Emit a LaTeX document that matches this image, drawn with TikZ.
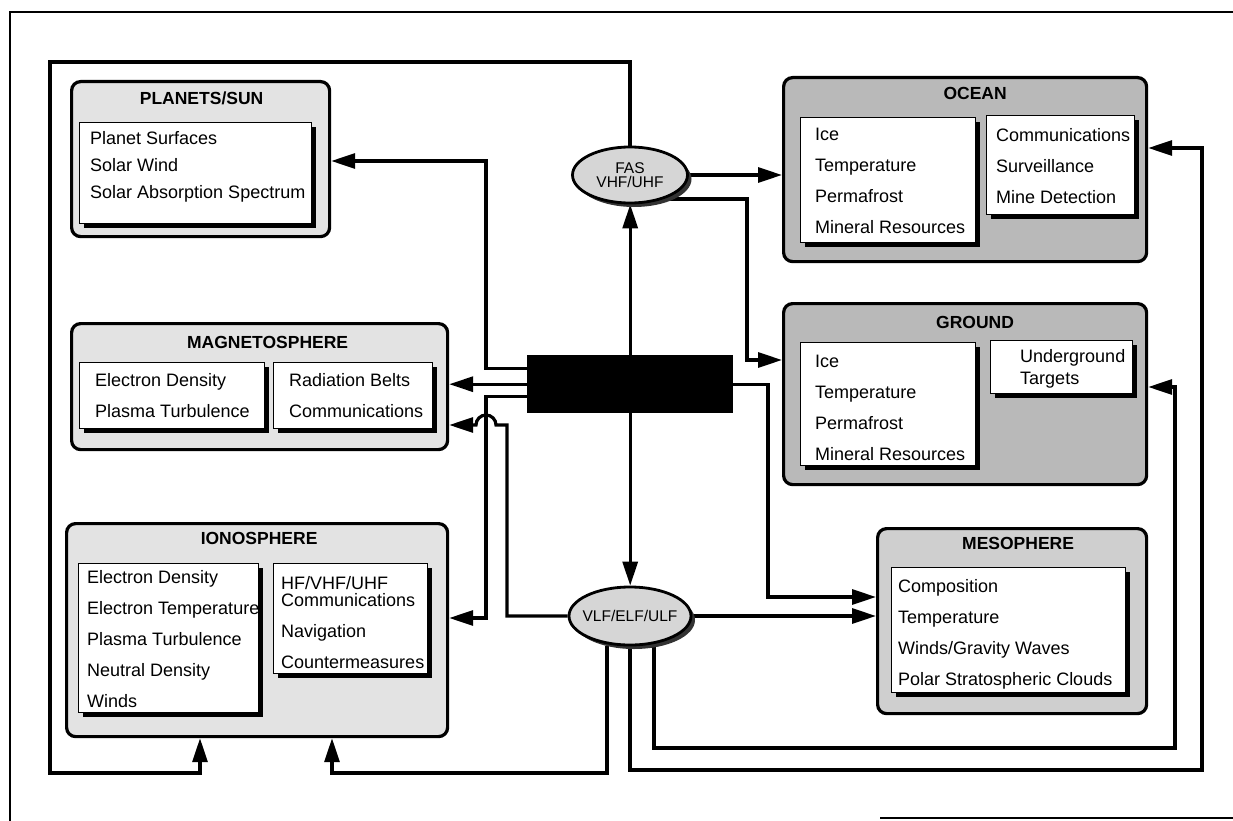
\documentclass[tikz,border=0pt]{standalone}
\usepackage{fontspec}
\setmainfont{Liberation Sans}
\usetikzlibrary{shapes.geometric,positioning,backgrounds,shadows,arrows.meta}

\tikzset{
  sphere/.style={draw, line width=3.2pt, rounded corners=9pt, anchor=north west, inner sep=0pt},
  pale/.style={fill=gray!22},
  deep/.style={fill=gray!55},
  panel/.style={draw, line width=0.9pt, fill=white, anchor=north west, inner sep=0pt,
    drop shadow={shadow xshift=5pt, shadow yshift=-5pt, fill=black, opacity=1}},
  heading/.style={font=\bfseries\fontsize{17.5}{17.5}\selectfont, inner sep=0pt},
  entries/.style={anchor=north west, align=left, inner sep=0pt, font=\fontsize{18}{31}\selectfont},
  band/.style={ellipse, draw, line width=2.8pt, fill=gray!32, inner sep=-8pt, align=center,
    font=\fontsize{15.5}{14}\selectfont,
    drop shadow={shadow xshift=4pt, shadow yshift=-4pt, fill=black!80, opacity=1}},
  flow/.style={line width=3.2pt, -{Triangle[length=24pt,width=15pt]}},
}

\begin{document}
\begin{tikzpicture}[x=1pt,y=-1pt]
\useasboundingbox (0,0) rectangle (1233,821);
% page frame
\draw[line width=1.6pt] (1233,12) -- (10,12) -- (10,821);
\draw[line width=1.6pt] (880,818) -- (1233,818);

% left column
\node[sphere, pale, minimum width=258pt, minimum height=155pt] (pla) at (70,80) {};
\node[heading] (plah) at ([shift={(1pt,-18pt)}]pla.north) {PLANETS/SUN};
\node[panel, minimum width=232pt, minimum height=101pt] (plap) at ([shift={(9pt,-42pt)}]pla.north west) {};
\node[entries, font=\fontsize{18}{27}\selectfont] (plal) at ([shift={(11pt,-9pt)}]plap.north west)
  {Planet Surfaces\\Solar Wind\\Solar Absorption Spectrum};

\node[sphere, pale, minimum width=376pt, minimum height=126pt] (mag) at (70,322) {};
\node[heading] (magh) at ([shift={(8pt,-20pt)}]mag.north) {MAGNETOSPHERE};
\node[panel, minimum width=185pt, minimum height=66pt] (magl) at ([shift={(9pt,-40pt)}]mag.north west) {};
\node[panel, minimum width=159pt, minimum height=66pt] (magr) at ([shift={(203pt,-40pt)}]mag.north west) {};
\node[entries] (magla) at ([shift={(16pt,-11pt)}]magl.north west) {Electron Density\\Plasma Turbulence};
\node[entries] (magra) at ([shift={(16pt,-11pt)}]magr.north west) {Radiation Belts\\Communications};

\node[sphere, pale, minimum width=381pt, minimum height=213pt] (ion) at (65,522) {};
\node[heading] (ionh) at ([shift={(2pt,-16pt)}]ion.north) {IONOSPHERE};
\node[panel, minimum width=180pt, minimum height=149pt] (ionl) at ([shift={(13pt,-41pt)}]ion.north west) {};
\node[panel, minimum width=154pt, minimum height=110pt] (ionr) at ([shift={(208pt,-41pt)}]ion.north west) {};
\node[entries] (ionla) at ([shift={(9pt,-7pt)}]ionl.north west)
  {Electron Density\\Electron Temperature\\Plasma Turbulence\\Neutral Density\\Winds};
\node[entries] (ionra) at ([shift={(8pt,-13pt)}]ionr.north west)
  {HF/VHF/UHF\\[-14pt]Communications\\Navigation\\Countermeasures};

% right column
\node[sphere, deep, minimum width=363pt, minimum height=184pt] (ocean) at (782,76) {};
\node[heading] (oceanh) at ([shift={(10pt,-17pt)}]ocean.north) {OCEAN};
\node[panel, minimum width=175pt, minimum height=125pt] (ocnl) at ([shift={(18pt,-41pt)}]ocean.north west) {};
\node[panel, minimum width=148pt, minimum height=99pt] (ocnr) at ([shift={(204pt,-39pt)}]ocean.north west) {};
\node[entries] (ocnla) at ([shift={(15pt,-11pt)}]ocnl.north west)
  {Ice\\Temperature\\Permafrost\\Mineral Resources};
\node[entries] (ocnra) at ([shift={(10pt,-13pt)}]ocnr.north west)
  {Communications\\Surveillance\\Mine Detection};

\node[sphere, deep, minimum width=363pt, minimum height=181pt] (ground) at (782,302) {};
\node[heading] (groundh) at ([shift={(10pt,-20pt)}]ground.north) {GROUND};
\node[panel, minimum width=175pt, minimum height=123pt] (grdl) at ([shift={(18pt,-40pt)}]ground.north west) {};
\node[panel, minimum width=142pt, minimum height=53pt] (grdr) at ([shift={(208pt,-38pt)}]ground.north west) {};
\node[entries] (grdla) at ([shift={(15pt,-13pt)}]grdl.north west)
  {Ice\\Temperature\\Permafrost\\Mineral Resources};
\node[entries, font=\fontsize{18}{22}\selectfont] (grdra) at ([shift={(30pt,-9pt)}]grdr.north west)
  {Underground\\Targets};

\node[sphere, fill=gray!38, minimum width=269pt, minimum height=185pt] (meso) at (876,527) {};
\node[heading] (mesoh) at ([shift={(6pt,-16pt)}]meso.north) {MESOPHERE};
\node[panel, minimum width=234pt, minimum height=125pt] (mesp) at ([shift={(15pt,-40pt)}]meso.north west) {};
\node[entries] (mespa) at ([shift={(7pt,-12pt)}]mesp.north west)
  {Composition\\Temperature\\Winds/Gravity Waves\\Polar Stratospheric Clouds};

% middle
\node[fill=black, minimum width=206pt, minimum height=58pt, inner sep=0pt, anchor=north west] (core) at (527,355) {};
\node[band, minimum width=115pt, minimum height=56pt] (fas) at (630,175) {FAS\\VHF/UHF};
\node[band, minimum width=122pt, minimum height=58pt] (vlf) at (630,616) {VLF/ELF/ULF};

% bends
\coordinate (fnw) at (50,62);
\coordinate (fsw) at (50,773);
\coordinate (pcol) at (486,161);
\coordinate (icol) at (486,618);
\coordinate (hcol) at (507,425);
\coordinate (gcol) at (747,360);
\coordinate (mcol) at (768,597);
\coordinate (irow) at (332,773);
\coordinate (orow) at (1202,770);
\coordinate (ocol) at (1202,148);
\coordinate (grow) at (1175,748);
\coordinate (gcol2) at (1175,387);

\begin{scope}[on background layer]
\draw[flow] (fas.north) |- (fnw) -- (fsw) -| ([xshift=135pt]ion.south west);
\draw[flow] (core.north) -- (core.north |- fas.south);
\draw[flow] (fas.east) -- (fas.east -| ocean.west);
\draw[flow] (fas.-35) -| (gcol) -- (gcol -| ground.west);

\draw[flow] ([yshift=16pt]core.west) -| (pcol) -- (pcol -| pla.east);
\draw[flow] (core.west) -- (core.west -| mag.east);
\draw[flow] ([yshift=-12pt]core.west) -| (icol) -- (icol -| ion.east);
\draw[flow] (core.south) -- (core.south |- vlf.north);
\draw[flow] (core.east) -| (mcol) -- (mcol -| meso.west);

\draw[flow] (vlf.west) -| (hcol) -- ([xshift=10pt]hcol -| icol)
  arc[start angle=0, end angle=180, radius=10pt] -- (hcol -| mag.east);
\draw[flow] (vlf.east) -- (vlf.east -| meso.west);
\draw[flow] ([xshift=-23pt]vlf.south) |- (irow) -- ([xshift=267pt]ion.south west);
\draw[flow] (vlf.south) |- (orow) -- (ocol) -- (ocol -| ocean.east);
\draw[flow] ([xshift=24pt]vlf.south) |- (grow) -- (gcol2) -- (gcol2 -| ground.east);
\end{scope}
\end{tikzpicture}
\end{document}
